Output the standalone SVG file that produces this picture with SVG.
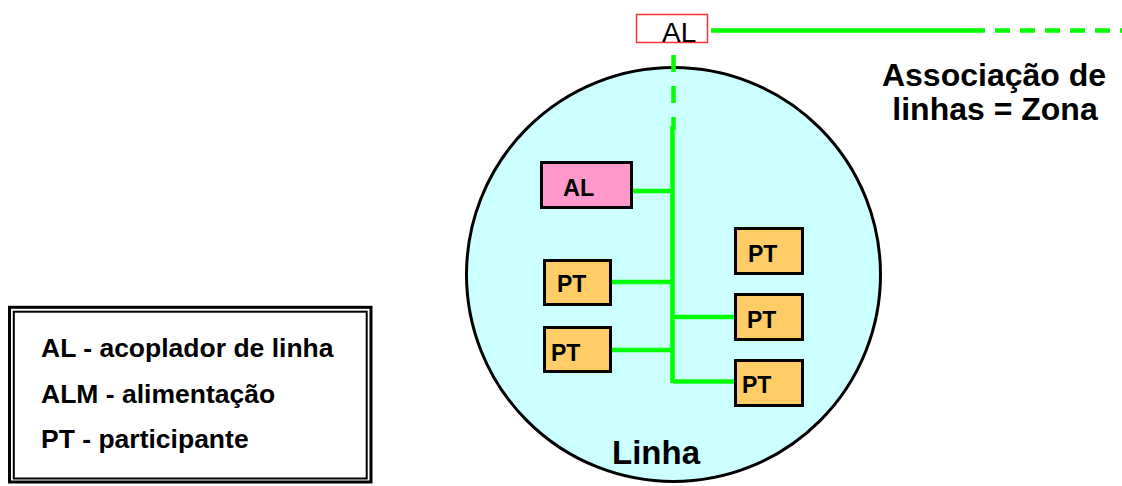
<svg xmlns="http://www.w3.org/2000/svg" width="1122" height="486" viewBox="0 0 1122 486">
  <style>
    .bus { stroke: #00FF00; stroke-width: 4.5; fill: none; }
    .dash-h { stroke-dasharray: 15 10; }
    .dash-v { stroke-dasharray: 17 14; }
    .box { stroke: #000; stroke-width: 3; }
    .pt { fill: #FFCC66; }
    .lbl { font-family: "Liberation Sans", Arial, sans-serif; font-weight: bold; fill: #000; }
  </style>
  <rect width="1122" height="486" fill="#fff"/>

  <!-- the line (Linha) -->
  <g id="linha">
    <circle cx="673.5" cy="274.5" r="207" fill="#CCFFFF" stroke="#000" stroke-width="3"/>
    <text class="lbl" x="612" y="464" font-size="33">Linha</text>
  </g>

  <!-- bus wiring -->
  <g id="connectors">
    <line class="bus" x1="711" y1="30.5" x2="972" y2="30.5"/>
    <line class="bus dash-h" x1="970" y1="30.5" x2="1122" y2="30.5"/>
    <line class="bus dash-v" x1="673.5" y1="55" x2="673.5" y2="130"/>
    <line class="bus" x1="672.5" y1="126" x2="672.5" y2="383"/>
    <line class="bus" x1="632" y1="191" x2="672" y2="191"/>
    <line class="bus" x1="611" y1="282" x2="672" y2="282"/>
    <line class="bus" x1="611" y1="350" x2="672" y2="350"/>
    <line class="bus" x1="673" y1="317" x2="735" y2="317"/>
    <line class="bus" x1="673" y1="381.5" x2="735" y2="381.5"/>
  </g>

  <!-- area coupler -->
  <g id="al-top">
    <rect x="636.5" y="14.5" width="71" height="28" fill="#fff" stroke="#FF3333" stroke-width="1.5"/>
    <text x="662" y="41.5" font-family="Liberation Sans, Arial, sans-serif" font-size="28" fill="#000">AL</text>
  </g>

  <g id="zona-label">
    <text class="lbl" x="994" y="85.5" font-size="32" text-anchor="middle">Associação de</text>
    <text class="lbl" x="995" y="119.5" font-size="32" text-anchor="middle">linhas = Zona</text>
  </g>

  <!-- line coupler -->
  <g id="al-line">
    <rect class="box" x="541.5" y="162.5" width="90" height="45" fill="#FF99CC"/>
    <text class="lbl" x="563" y="196" font-size="23.5">AL</text>
  </g>

  <!-- participants -->
  <g id="pt-1">
    <rect class="box pt" x="544.5" y="260.5" width="66" height="44"/>
    <text class="lbl" x="557" y="292" font-size="23">PT</text>
  </g>
  <g id="pt-2">
    <rect class="box pt" x="544.5" y="327.5" width="66" height="44"/>
    <text class="lbl" x="551" y="361" font-size="23">PT</text>
  </g>
  <g id="pt-3">
    <rect class="box pt" x="735.5" y="228.5" width="67" height="45"/>
    <text class="lbl" x="748" y="262" font-size="23">PT</text>
  </g>
  <g id="pt-4">
    <rect class="box pt" x="735.5" y="294.5" width="67" height="45"/>
    <text class="lbl" x="747" y="328" font-size="23">PT</text>
  </g>
  <g id="pt-5">
    <rect class="box pt" x="735.5" y="360.5" width="67" height="45"/>
    <text class="lbl" x="742" y="393" font-size="23">PT</text>
  </g>

  <!-- legend -->
  <g id="legend">
    <rect x="9.5" y="307.3" width="361.5" height="174.7" fill="#fff" stroke="#000" stroke-width="3"/>
    <rect x="13.8" y="311.7" width="352.9" height="166.8" fill="none" stroke="#000" stroke-width="2"/>
    <text class="lbl" x="41" y="357" font-size="26.5">AL - acoplador de linha</text>
    <text class="lbl" x="41" y="403" font-size="26.5">ALM - alimentação</text>
    <text class="lbl" x="41" y="448" font-size="26.5">PT - participante</text>
  </g>
</svg>
